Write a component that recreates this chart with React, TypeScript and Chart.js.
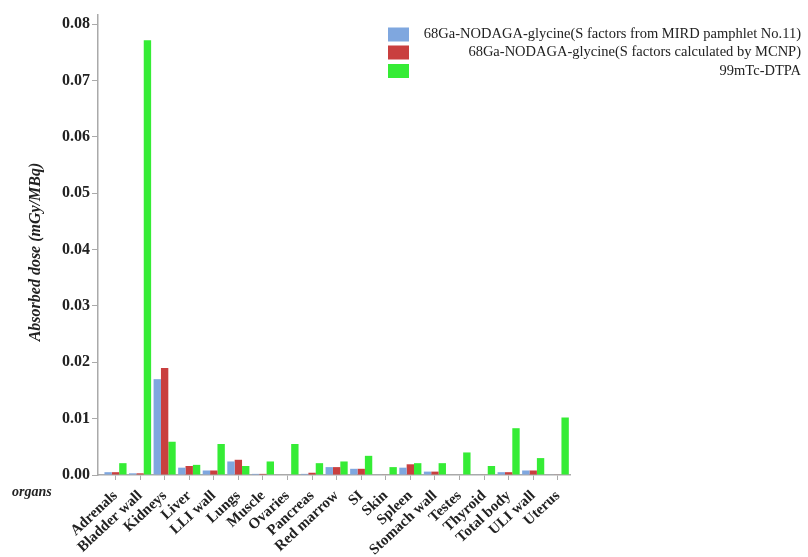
import React, { useEffect, useRef } from "react";
import { Chart, registerables } from "chart.js";

Chart.register(...registerables);

const organs = [
  "Adrenals", "Bladder wall", "Kidneys", "Liver", "LLI wall", "Lungs", "Muscle",
  "Ovaries", "Pancreas", "Red marrow", "SI", "Skin", "Spleen", "Stomach wall",
  "Testes", "Thyroid", "Total body", "ULI wall", "Uterus",
];
const mirdValues = [
  0.0005, 0.0003, 0.0170, 0.0013, 0.0008, 0.0024, 0.0002, 0.0, 0.0002, 0.0014,
  0.0011, 0.0001, 0.0013, 0.0006, 0.0, 0.0001, 0.0005, 0.0008, 0.0001,
];
const mcnpValues = [
  0.0005, 0.0003, 0.0190, 0.0016, 0.0008, 0.0027, 0.0002, 0.0, 0.0004, 0.0014,
  0.0011, 0.0001, 0.0019, 0.0006, 0.0, 0.0001, 0.0005, 0.0008, 0.0001,
];
const dtpaValues = [
  0.0021, 0.0771, 0.0059, 0.0018, 0.0055, 0.0016, 0.0024, 0.0055, 0.0021, 0.0024,
  0.0034, 0.0014, 0.0021, 0.0021, 0.0040, 0.0016, 0.0083, 0.0030, 0.0102,
];
const yTickValues = [0, 0.01, 0.02, 0.03, 0.04, 0.05, 0.06, 0.07, 0.08];
const seriesLabels = [
  "68Ga-NODAGA-glycine(S factors from MIRD pamphlet No.11)",
  "68Ga-NODAGA-glycine(S factors calculated by MCNP)",
  "99mTc-DTPA",
];
const seriesColors = ["#7FA7DF", "#C93F3F", "#35EC35"];
const yTitle = "Absorbed dose (mGy/MBq)";
const xTitle = "organs";

const SERIF = "'Liberation Serif', 'Times New Roman', serif";

const extrasPlugin = {
  id: "extras",
  afterDraw(chart: any) {
    const ctx = chart.ctx;
    ctx.save();
    // legend
    const rowsY = [34.5, 52.5, 71];
    ctx.font = `14.5px ${SERIF}`;
    ctx.textAlign = "right";
    ctx.textBaseline = "middle";
    seriesLabels.forEach((lab, i) => {
      ctx.fillStyle = seriesColors[i];
      ctx.fillRect(388, rowsY[i] - 7, 21, 14);
      ctx.fillStyle = "#222";
      ctx.fillText(lab, 801, rowsY[i]);
    });
    // x title
    ctx.font = `italic bold 14px ${SERIF}`;
    ctx.textAlign = "left";
    ctx.fillStyle = "#222";
    ctx.fillText(xTitle, 12, 492);
    // y title
    ctx.translate(36, 252);
    ctx.rotate(-Math.PI / 2);
    ctx.font = `italic bold 16px ${SERIF}`;
    ctx.textAlign = "center";
    ctx.fillText(yTitle, 0, 0);
    ctx.restore();
  },
};

export default function App() {
  const ref = useRef<HTMLCanvasElement | null>(null);
  useEffect(() => {
    if (!ref.current) return;
    const chart = new Chart(ref.current, {
      type: "bar",
      data: {
        labels: organs,
        datasets: [mirdValues, mcnpValues, dtpaValues].map((d, i) => ({
          label: seriesLabels[i],
          data: d,
          backgroundColor: seriesColors[i],
          borderWidth: 0,
          categoryPercentage: 0.9,
          barPercentage: 1.0,
        })),
      },
      options: {
        responsive: false,
        animation: false,
        layout: { padding: { left: 0, right: 238, top: 15, bottom: 0 } },
        plugins: { legend: { display: false }, tooltip: { enabled: false } },
        scales: {
          x: {
            offset: true,
            grid: { display: true, drawOnChartArea: false, offset: false, tickLength: 5, color: "#aaa" },
            border: { display: true, color: "#aaa", width: 1.5 },
            ticks: {
              autoSkip: false,
              minRotation: 43,
              maxRotation: 43,
              padding: 7,
              color: "#222",
              font: { family: SERIF, weight: "bold", size: 15 },
            },
            afterBuildTicks: (s: any) => {
              s._startValue = -0.712;
              s._valueRange = 19.21;
            },
            afterFit: (s: any) => {
              s.height = 82;
            },
          },
          y: {
            min: 0,
            max: 0.0816,
            grid: { display: true, drawOnChartArea: false, tickLength: 6, color: "#aaa" },
            border: { display: true, color: "#aaa", width: 1.5 },
            afterBuildTicks: (s: any) => {
              s.ticks = yTickValues.map((v) => ({ value: v }));
            },
            ticks: {
              padding: 2,
              color: "#222",
              font: { family: SERIF, weight: "bold", size: 16 },
              callback: (v: any) => Number(v).toFixed(2),
            },
            afterFit: (s: any) => {
              s.width = 98;
            },
          },
        },
      },
      plugins: [extrasPlugin],
    });
    return () => chart.destroy();
  }, []);
  return (
    <div style={{ position: "fixed", left: 0, top: 0, width: 808, height: 557, background: "#fff" }}>
      <canvas ref={ref} width={808} height={557} style={{ display: "block" }} />
    </div>
  );
}
